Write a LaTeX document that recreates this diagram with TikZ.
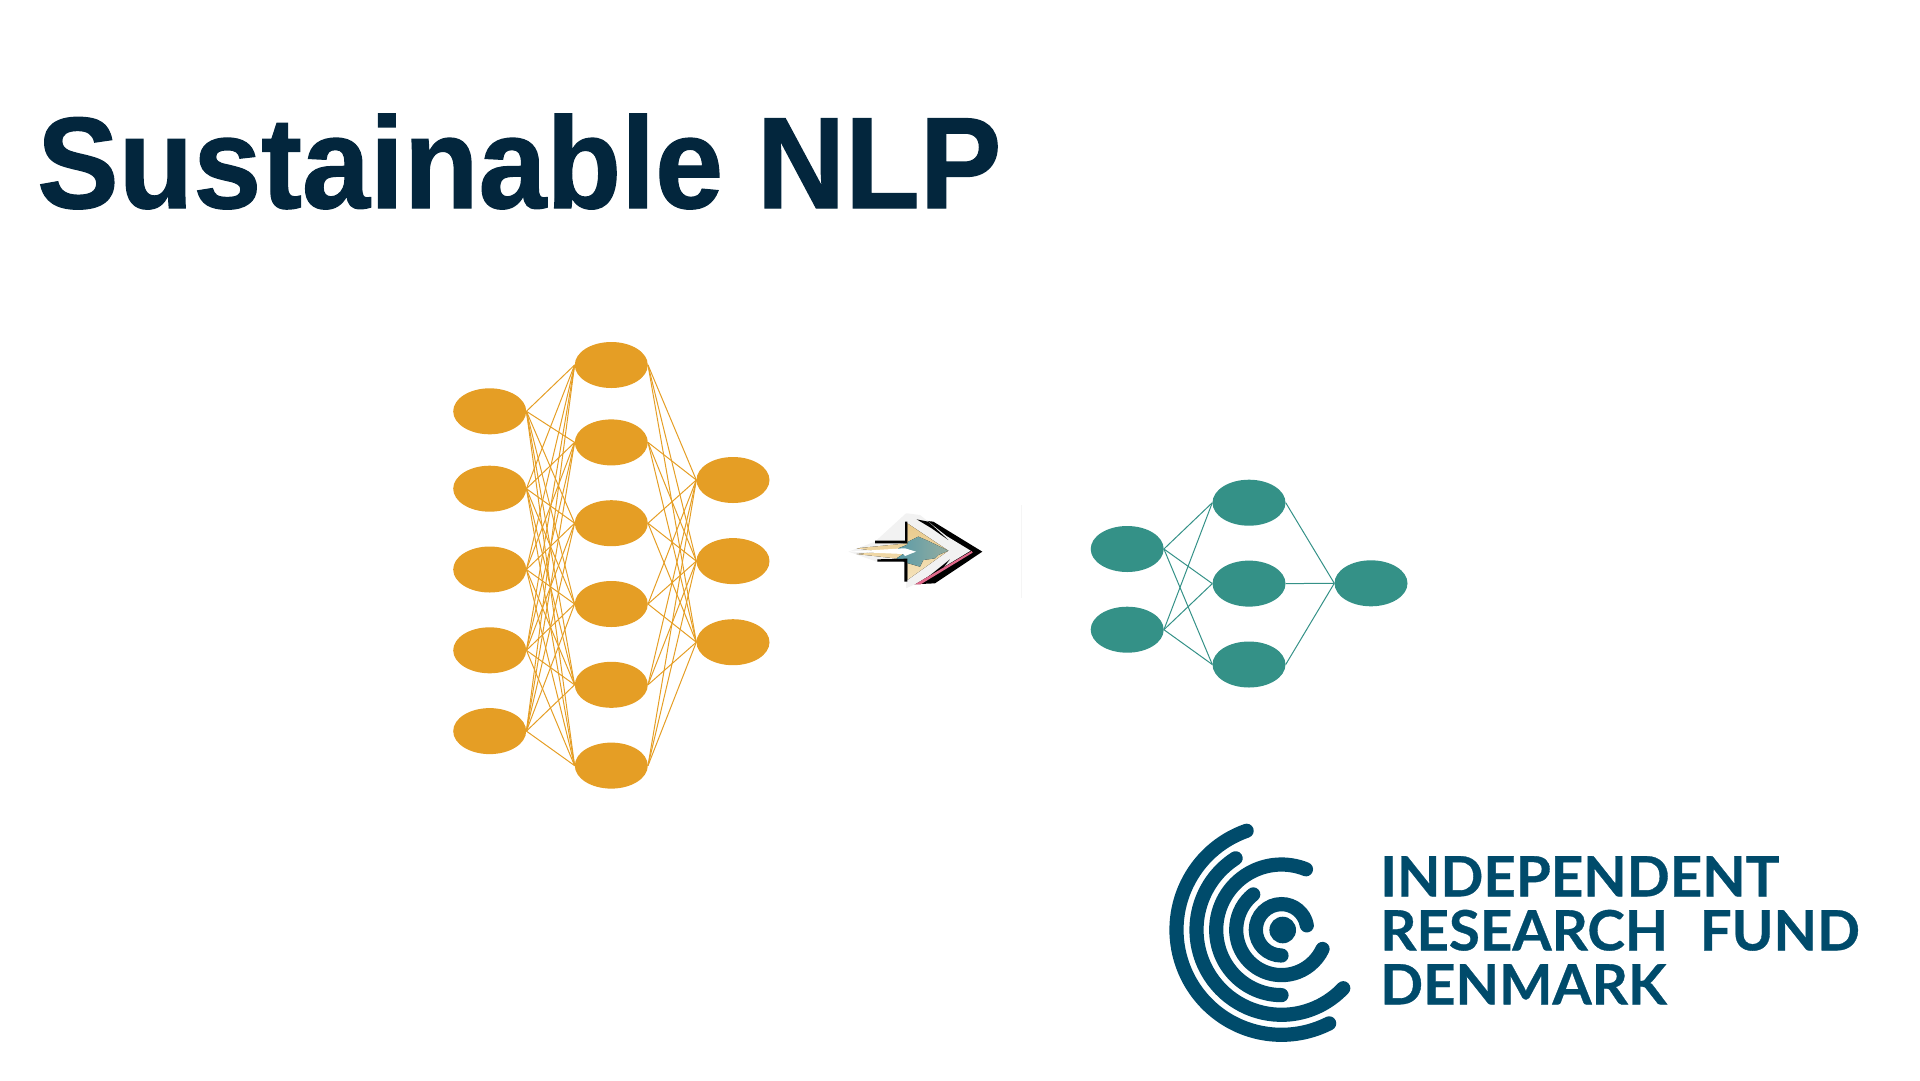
\documentclass[tikz,border=0pt]{standalone}
\usepackage{fontspec}
\setmainfont{Liberation Sans}
\newfontfamily\titlefont[FakeStretch=0.94,BoldFeatures={FakeStretch=0.94,FakeBold=1}]{Liberation Sans}
\newfontfamily\logofont[WordSpace=2.3,BoldFeatures={FakeStretch=1.017,FakeBold=0.6}]{Lato}
\usetikzlibrary{positioning,shapes.geometric}
\definecolor{TitleNavy}{HTML}{03263D}
\definecolor{NetOrange}{HTML}{E59E25}
\definecolor{NetTeal}{HTML}{349187}
\definecolor{LogoBlue}{HTML}{004B6B}
\definecolor{ArrowTanDark}{HTML}{E9C98A}
\definecolor{ArrowTanLight}{HTML}{F5E3BC}
\definecolor{ArrowBlue}{HTML}{5B9BA8}
\definecolor{ArrowSage}{HTML}{93ADA0}
\definecolor{ArrowPink}{HTML}{E0688A}
\tikzstyle{NeuronBig}=[ellipse, fill=NetOrange, minimum width=73pt, minimum height=46pt, inner sep=0pt]
\tikzstyle{NeuronSmall}=[ellipse, fill=NetTeal, minimum width=73pt, minimum height=46pt, inner sep=0pt]
\tikzstyle{LinkBig}=[draw=NetOrange, line width=1pt]
\tikzstyle{LinkSmall}=[draw=NetTeal, line width=1pt]
\tikzstyle{LogoRing}=[draw=LogoBlue, line width=14.2pt, line cap=round]

\begin{document}
\begin{tikzpicture}[x=1pt,y=1pt]
	\useasboundingbox (0,0) rectangle (1920,-1080);

	%Title
	\node[anchor=base west, inner sep=0pt, text=TitleNavy, font=\fontsize{130}{130}\selectfont\titlefont\bfseries] (title) at (37,-208) {Sustainable NLP};

	%Big network
	\node[NeuronBig]	(a1)	at (489.7,-411.3)	{};
	\node[NeuronBig]	(a2)	[below=31pt of a1]	{};
	\node[NeuronBig]	(a3)	[below=34.4pt of a2]	{};
	\node[NeuronBig]	(a4)	[below=34.4pt of a3]	{};
	\node[NeuronBig]	(a5)	[below=34.4pt of a4]	{};

	\node[NeuronBig]	(b1)	at (611.3,-365)	{};
	\node[NeuronBig]	(b2)	[below=31pt of b1]	{};
	\node[NeuronBig]	(b3)	[below=34.4pt of b2]	{};
	\node[NeuronBig]	(b4)	[below=34.4pt of b3]	{};
	\node[NeuronBig]	(b5)	[below=34.4pt of b4]	{};
	\node[NeuronBig]	(b6)	[below=34.4pt of b5]	{};

	\node[NeuronBig]	(c1)	at (733,-480)	{};
	\node[NeuronBig]	(c2)	[below=34.7pt of c1]	{};
	\node[NeuronBig]	(c3)	[below=34.7pt of c2]	{};

	\foreach \i in {1,...,5}
		\foreach \j in {1,...,6}
			\draw[LinkBig] (a\i.east) -- (b\j.west);
	\foreach \j in {1,...,6}
		\foreach \k in {1,2,3}
			\draw[LinkBig] (b\j.east) -- (c\k.west);

	%Small network
	\node[NeuronSmall]	(p1)	at (1127.2,-549)	{};
	\node[NeuronSmall]	(p2)	[below=34.3pt of p1]	{};

	\node[NeuronSmall]	(q1)	at (1249,-502.7)	{};
	\node[NeuronSmall]	(q2)	[below=34.5pt of q1]	{};
	\node[NeuronSmall]	(q3)	[below=34.5pt of q2]	{};

	\node[NeuronSmall]	(r1)	at (1371,-583.3)	{};

	\foreach \i in {1,2}
		\foreach \j in {1,2,3}
			\draw[LinkSmall] (p\i.east) -- (q\j.west);
	\foreach \j in {1,2,3}
		\draw[LinkSmall] (q\j.east) -- (r1.west);

	%Arrow
	\begin{scope}[shift={(820,-480)},x=0.3333pt,y=-0.3333pt]
		\draw[draw=black!4, line width=1pt] (605,75) -- (605,355);
		\fill[black] (280,118) -- (340,125) -- (487,215) -- (345,310) -- (280,313) -- (400,215) -- cycle;
		\fill[black!5] (85,215) -- (165,185) -- (258,100) -- (262,100) -- (300,105) -- (382,170) -- (322,133) -- (452,212) -- (285,313) -- (258,325) -- (258,245) -- (170,245) -- cycle;
		\fill[top color=ArrowTanDark, bottom color=ArrowTanLight] (262,130) -- (385,212) -- (262,300) -- (262,240) -- (225,235) -- (110,222) -- (180,215) -- (110,205) -- (262,190) -- cycle;
		\fill[left color=ArrowBlue, right color=ArrowSage] (235,205) -- (260,195) -- (265,185) -- (295,170) -- (325,183) -- (385,212) -- (355,225) -- (345,235) -- (310,240) -- (300,260) -- (265,250) -- (230,235) -- (250,222) -- cycle;
		\fill[white] (85,215) -- (250,205) -- (255,205) -- (288,215) -- (255,228) -- (250,222) -- cycle;
		\fill[black] (255,125) -- (262,125) -- (262,190) -- (165,190) -- (165,182) -- (255,182) -- cycle;
		\fill[black] (172,238) -- (262,236) -- (262,305) -- (253,305) -- (253,245) -- (172,245) -- cycle;
		\fill[black] (290,118) -- (325,125) -- (385,180) -- (335,145) -- cycle;
		\fill[black] (390,238) -- (345,295) -- (300,310) -- cycle;
		\fill[ArrowPink] (455,213) -- (285,313) -- (302,313) -- (458,218) -- cycle;
	\end{scope}

	%Logo
	\begin{scope}[shift={(1281.5,-929.8)}]
		\fill[LogoBlue] (1.2,-0.2) circle (13.3pt);
		\draw[LogoRing] (270:25.7) arc[start angle=270, end angle=10, radius=25.7pt];
		\draw[LogoRing] (128.6:45.3) arc[start angle=128.6, end angle=335, radius=45.3pt];
		\draw[LogoRing] (270:65.3) arc[start angle=270, end angle=68, radius=65.3pt];
		\draw[LogoRing] (122.7:85) arc[start angle=122.7, end angle=316.6, radius=85pt];
		\draw[LogoRing] (109.4:105) arc[start angle=109.4, end angle=297, radius=105pt];
	\end{scope}
	\node[anchor=north west, inner sep=0pt, align=left, text=LogoBlue, font=\fontsize{55.5}{54}\selectfont\logofont\bfseries] (fund) at (1380,-856) {INDEPENDENT\\RESEARCH FUND\\DENMARK};
\end{tikzpicture}
\end{document}
